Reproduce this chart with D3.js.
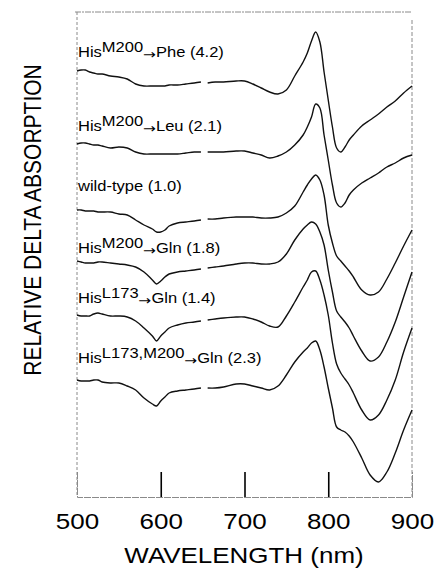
<!DOCTYPE html>
<html lang="en">
<head>
  <meta charset="UTF-8">
  <title></title>
  <style>
    html, body {
      margin: 0;
      background: #fff;
      overflow: hidden;
      width: 100%;
      height: 100%;
    }
    svg {
      position: absolute;
      top: 0;
      left: 0;
      font-family: "Liberation Sans", Arial, Helvetica, sans-serif;
    }
  </style>
</head>
<body>
  <svg width="439" height="579"></svg>
</body>
<script src="https://d3js.org/d3.v7.min.js"></script>
<script type="text/javascript">
  // wavelength grid (nm); 652 is the break in the recording
  const wavelengths = [500, 505, 510, 515, 520, 525, 530, 540, 550, 560, 570, 580, 590,
    595, 600, 605, 610, 620, 630, 640, 648, 652, 656, 665, 675, 690, 700,
    710, 720, 730, 740, 750, 760, 770, 775, 780, 785, 790, 795, 800,
    805, 810, 815, 820, 825, 830, 840, 850, 860, 870, 880, 890, 900]

  // stacked relative delta absorption (arbitrary units)
  const phe = [42.6, 42.7, 42.7, 42.5, 42.4, 42.3, 42.3, 42.1, 42.0, 41.8, 41.3, 41.1, 41.1,
    41.1, 41.1, 41.1, 41.2, 41.2, 41.3, 41.4, 41.5, null, 41.4, 41.5, 41.5, 41.6, 41.6,
    41.3, 40.9, 40.5, 40.3, 40.7, 42.1, 43.5, 44.4, 45.6, 46.5, 45.5, 42.5, 39.7,
    37.0, 34.9, 34.5, 35.0, 35.7, 36.2, 37.1, 37.7, 38.3, 39.0, 39.6, 40.4, 41.1]
  const leu = [35.3, 35.4, 35.4, 35.3, 35.2, 35.2, 35.1, 34.9, 35.0, 34.9, 34.5, 34.3, 34.3,
    34.3, 34.3, 34.3, 34.3, 34.3, 34.4, 34.5, 34.5, null, 34.5, 34.5, 34.5, 34.6, 34.6,
    34.4, 34.2, 33.9, 34.1, 34.5, 35.2, 36.2, 37.0, 38.0, 39.3, 38.9, 36.2, 33.7,
    31.2, 29.4, 29.0, 29.4, 30.2, 30.7, 31.4, 31.9, 32.4, 33.0, 33.4, 33.9, 34.2]
  const wildType = [28.7, 28.7, 28.6, 28.6, 28.6, 28.5, 28.5, 28.5, 28.3, 28.2, 27.7, 27.2, 26.8,
    26.5, 26.5, 26.7, 27.1, 27.4, 27.5, 27.6, 27.7, null, 27.8, 27.8, 27.9, 28.0, 28.0,
    28.0, 27.9, 27.9, 28.0, 28.4, 29.1, 30.5, 31.2, 31.8, 32.2, 31.7, 30.2, 27.2,
    25.4, 24.1, 23.6, 23.1, 22.6, 22.0, 20.7, 20.2, 20.5, 21.8, 23.4, 25.1, 26.7]
  const glnM200 = [23.6, 23.5, 23.4, 23.4, 23.4, 23.5, 23.5, 23.4, 23.3, 23.2, 23.0, 22.5, 21.7,
    21.3, 21.6, 22.0, 22.3, 22.5, 22.6, 22.7, 22.8, null, 22.9, 23.0, 23.1, 23.3, 23.4,
    23.4, 23.3, 23.3, 23.5, 24.3, 25.7, 26.8, 27.2, 27.5, 27.3, 26.5, 25.2, 22.7,
    20.5, 18.6, 18.0, 17.5, 16.9, 16.1, 14.6, 13.6, 14.0, 15.5, 17.5, 20.0, 22.5]
  const glnL173 = [18.2, 18.1, 18.1, 18.1, 18.3, 18.4, 18.3, 18.1, 18.1, 18.0, 17.6, 16.9, 16.1,
    15.6, 16.1, 16.5, 16.9, 17.2, 17.4, 17.5, 17.6, null, 17.7, 17.8, 17.9, 18.0, 18.0,
    17.8, 17.5, 17.1, 17.0, 18.1, 19.5, 21.0, 21.7, 22.5, 22.6, 21.7, 20.2, 18.2,
    15.4, 13.3, 12.4, 11.8, 11.2, 10.4, 8.7, 7.7, 8.2, 9.7, 11.7, 14.5, 16.9]
  const glnDouble = [11.7, 11.6, 11.6, 11.6, 11.7, 11.7, 11.5, 11.4, 11.4, 11.1, 10.7, 9.9, 9.3,
    9.1, 9.6, 10.0, 10.4, 10.6, 10.7, 10.8, 10.9, null, 10.9, 10.9, 11.0, 11.3, 11.3,
    11.1, 10.9, 10.7, 11.1, 12.2, 13.5, 14.5, 14.9, 15.4, 15.6, 14.7, 13.0, 10.9,
    8.9, 7.0, 6.7, 6.5, 6.1, 5.5, 3.9, 2.2, 1.5, 2.5, 4.4, 6.7, 8.7]

  const series = [phe, leu, wildType, glnM200, glnL173, glnDouble]

  // curve labels: base, superscript, residue after the arrow
  const labelBase = ['His', 'His', 'wild-type (1.0)', 'His', 'His', 'His']
  const labelSup = ['M200', 'M200', '', 'M200', 'L173', 'L173,M200']
  const labelTail = ['Phe (4.2)', 'Leu (2.1)', '', 'Gln (1.8)', 'Gln (1.4)', 'Gln (2.3)']

  const xTicks = [500, 600, 700, 800, 900]

  const svg = d3.select('svg')
  const stretch = 1.18   // the original print is a bit wide

  const x = d3.scaleLinear().domain([500, 900]).range([77, 412])
  const y = d3.scaleLinear().domain([0, 48.5]).range([497, 12])

  // frame
  const frame = svg.append('g')
    .attr('fill', 'none')
    .attr('stroke', '#8a8a8a')
    .attr('stroke-width', 1)
  frame.append('line').attr('x1', 75).attr('x2', 412).attr('y1', 12).attr('y2', 12)
    .attr('stroke-dasharray', '6,1,2,1')
  frame.append('line').attr('x1', 77).attr('x2', 77).attr('y1', 12).attr('y2', 497)
    .attr('stroke-dasharray', '3,2')
  frame.append('line').attr('x1', 412).attr('x2', 412).attr('y1', 20).attr('y2', 497)
    .attr('stroke-dasharray', '4,2')

  // bottom axis with inward ticks
  const axis = svg.append('g')
    .attr('transform', 'translate(0,497)')
    .call(d3.axisBottom(x).tickValues(xTicks).tickSize(-25).tickPadding(16).tickFormat(d3.format('d')))
  axis.select('.domain').attr('stroke', '#8a8a8a').attr('stroke-dasharray', '7,1')
  axis.selectAll('.tick line')
    .attr('stroke', '#000')
    .attr('stroke-width', 1.6)
    .attr('display', d => (d === 500 || d === 900) ? 'none' : null)
  axis.selectAll('.tick text')
    .attr('font-size', 22)
    .attr('font-family', '"Liberation Sans", Arial, sans-serif')
    .attr('fill', '#000')
    .attr('transform', `scale(${stretch},1)`)

  svg.append('text')
    .attr('transform', `translate(244,563) scale(${stretch},1)`)
    .attr('text-anchor', 'middle')
    .attr('font-size', 22)
    .text('WAVELENGTH (nm)')

  svg.append('text')
    .attr('transform', `translate(32,220) scale(${stretch},1) rotate(-90)`)
    .attr('text-anchor', 'middle')
    .attr('dy', '0.36em')
    .attr('font-size', 21)
    .text('RELATIVE DELTA ABSORPTION')

  // spectra
  const line = d3.line()
    .defined(d => d[1] !== null)
    .x(d => x(d[0]))
    .y(d => y(d[1]))
    .curve(d3.curveCatmullRom.alpha(0.5))

  svg.append('g')
    .selectAll('path')
    .data(series)
    .join('path')
    .attr('d', s => line(wavelengths.map((w, i) => [w, s[i]])))
    .attr('fill', 'none')
    .attr('stroke', '#111')
    .attr('stroke-width', 1.4)
    .attr('stroke-linejoin', 'round')

  // labels
  const labelY = [57, 131, 191, 253, 303, 363]
  const labels = svg.append('g')
    .selectAll('text')
    .data(labelBase)
    .join('text')
    .attr('transform', (d, i) => `translate(78,${labelY[i]}) scale(${stretch},1)`)
    .attr('font-size', 14)
    .attr('fill', '#000')

  labels.each(function (d, i) {
    const t = d3.select(this)
    t.append('tspan').text(d)
    if (labelSup[i]) {
      t.append('tspan').attr('dy', -5).text(labelSup[i])
      t.append('tspan').attr('dy', 7)
        .attr('font-family', '"DejaVu Sans", sans-serif')
        .attr('font-size', 13)
        .text('\u2192')
      t.append('tspan').attr('dy', -2).text(labelTail[i])
    }
  })
</script>
</html>
